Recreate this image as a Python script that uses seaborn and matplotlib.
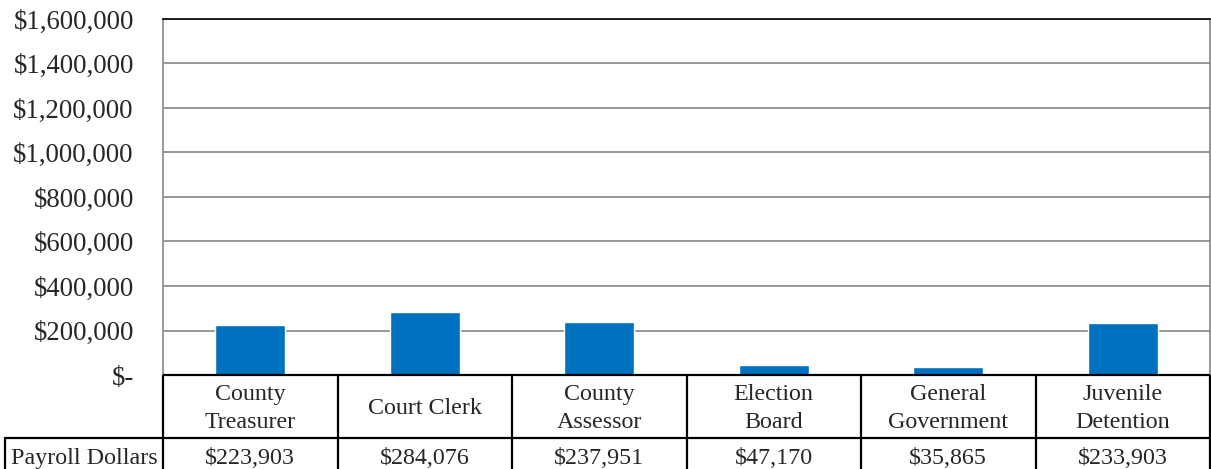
import numpy as np
import pandas as pd
import seaborn as sns
import matplotlib.pyplot as plt
from matplotlib.ticker import FuncFormatter

# dados do gráfico
categorias = ['County Treasurer', 'Court Clerk', 'County Assessor',
              'Election Board', 'General Government', 'Juvenile Detention']
rotulos = ['County\nTreasurer', 'Court Clerk', 'County\nAssessor',
           'Election\nBoard', 'General\nGovernment', 'Juvenile\nDetention']
payroll = [223903, 284076, 237951, 47170, 35865, 233903]
serie = 'Payroll Dollars'
y_ticks = [0, 200000, 400000, 600000, 800000, 1000000, 1200000, 1400000, 1600000]

df = pd.DataFrame({'categoria': categorias, 'valor': payroll})

sns.set_style('white')
plt.rcParams['font.family'] = ['Liberation Serif', 'DejaVu Serif']
FS = 17.3      # texto da tabela
FS_TICK = 19.3  # rótulos do eixo y

W, H = 1211, 469
fig = plt.figure(figsize=(W / 100, H / 100), dpi=100)

# eixo principal (barras)
ax = fig.add_axes([163 / W, 94 / H, 1047 / W, 356 / H])
sns.barplot(data=df, x='categoria', y='valor', color='#0070C0', saturation=1,
            width=0.4, ax=ax)
ax.set_xlim(-0.5, len(categorias) - 0.5)
ax.set_ylim(0, 1600000)
ax.set_yticks(y_ticks)


def fmt_moeda(v, pos):
    return '$-' if v == 0 else f'${v:,.0f}'


ax.yaxis.set_major_formatter(FuncFormatter(fmt_moeda))
ax.tick_params(axis='y', labelsize=FS_TICK, length=0, pad=21)
ax.set_xticks([])
ax.set_xlabel('')
ax.set_ylabel('')
ax.yaxis.grid(True, color='#868686', linewidth=1.2)
ax.set_axisbelow(True)
for lado in ['left', 'right']:
    ax.spines[lado].set_color('#868686')
    ax.spines[lado].set_linewidth(1.2)
ax.spines['top'].set_color('black')
ax.spines['top'].set_linewidth(1.2)
ax.spines['bottom'].set_visible(False)

# tabela de dados abaixo do gráfico
tax = fig.add_axes([163 / W, -3 / H, 1047 / W, 97 / H])
tax.set_xlim(-0.5, len(categorias) - 0.5)
tax.set_ylim(97, 0)
tax.axis('off')

lw = 1.6
n = len(categorias)
xs = np.arange(n + 1) - 0.5
tax.hlines([0], -0.5, n - 0.5, color='black', lw=lw, clip_on=False)
tax.vlines(xs, 0, 97, color='black', lw=lw, clip_on=False)
# linha entre cabeçalho e dados, estendida até a célula do rótulo
x_esq = (5 - 163) / 1047
tr = tax.get_yaxis_transform()
tax.plot([x_esq, 1], [63, 63], color='black', lw=lw, transform=tr, clip_on=False)
tax.plot([x_esq, x_esq], [63, 97], color='black', lw=lw, transform=tr, clip_on=False)

for i, (rot, v) in enumerate(zip(rotulos, payroll)):
    tax.text(i, 33.5, rot, ha='center', va='center', fontsize=FS, linespacing=1.4)
    tax.text(i, 83, f'${v:,.0f}', ha='center', va='center', fontsize=FS)
tax.text(x_esq + 6 / 1047, 83, serie, ha='left', va='center', fontsize=FS,
         transform=tr)

fig.savefig('out.png', dpi=100)
